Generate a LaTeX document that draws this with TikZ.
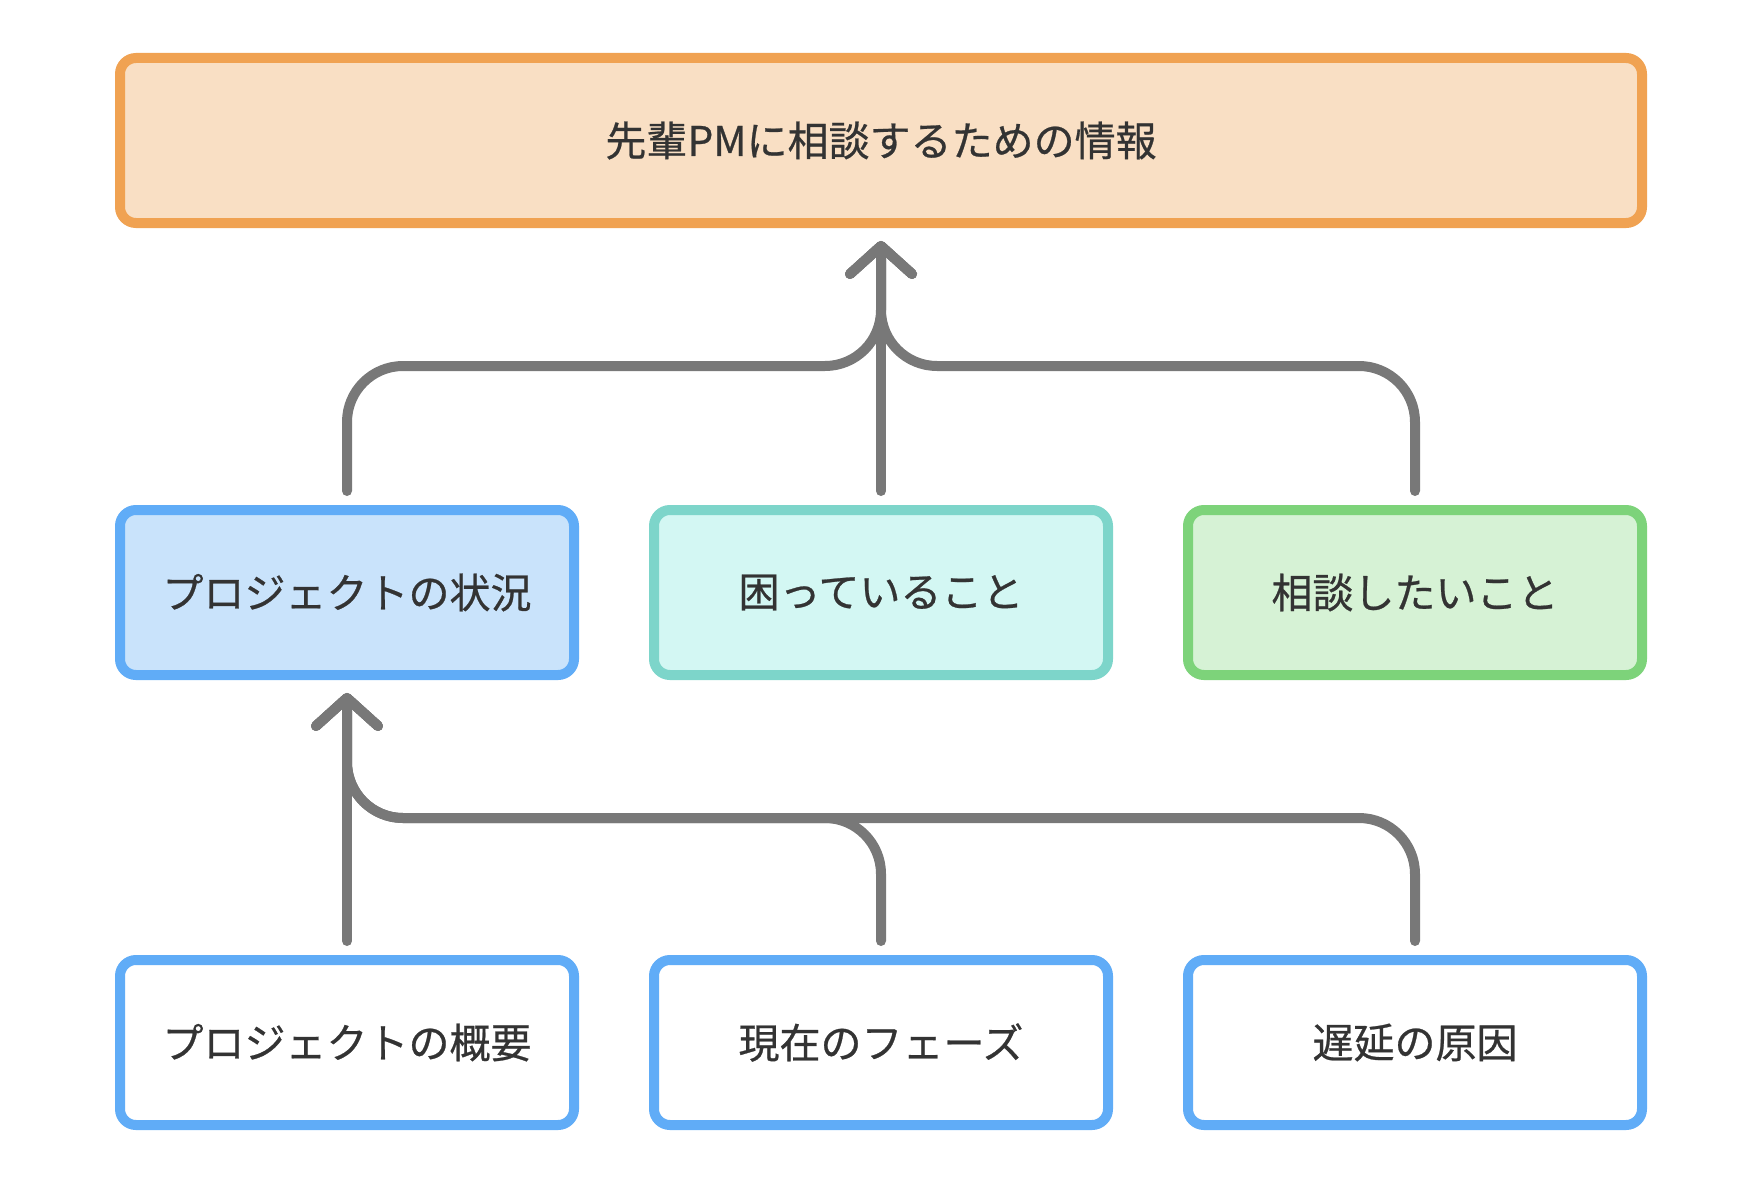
\documentclass[tikz,border=0pt]{standalone}
\usepackage{fontspec}
\setmainfont{Noto Sans CJK JP}[FakeBold=0.6]
\usetikzlibrary{positioning,arrows.meta}
\definecolor{ink}{HTML}{333333}
\definecolor{wire}{HTML}{787878}
\definecolor{orng}{HTML}{F0A252}
\definecolor{orngf}{HTML}{F9DFC4}
\definecolor{blu}{HTML}{60ACF7}
\definecolor{bluf}{HTML}{C9E3FB}
\definecolor{tel}{HTML}{7DD5CA}
\definecolor{telf}{HTML}{D3F7F3}
\definecolor{grn}{HTML}{7DD37A}
\definecolor{grnf}{HTML}{D6F2D5}
\newcommand{\Lbl}{\fontsize{41}{48}\selectfont}
\tikzset{
  box/.style={rectangle, rounded corners=16pt, line width=10pt, inner sep=0pt, outer sep=0pt,
              minimum width=454pt, minimum height=165pt, align=center, text=ink, font=\Lbl},
  goalbox/.style={box, draw=orng, fill=orngf, minimum width=1522pt},
  leaf/.style={box, draw=blu, fill=white},
  conn/.style={draw=wire, line width=10pt, line cap=round, line join=round, rounded corners=56pt,
               -{Straight Barb[length=28pt,width=62pt,round]}},
}
\begin{document}
\begin{tikzpicture}[x=1pt,y=1pt]
  \useasboundingbox (0,0) rectangle (1754,-1196);
  % goal
  \node[goalbox] (goal) at (881,-140.5) {先輩PMに相談するための情報};
  % middle row
  \node[box, draw=blu, fill=bluf, below=287pt of goal.south west, anchor=north west] (state) {プロジェクトの状況};
  \node[box, draw=tel, fill=telf, right=80pt of state] (trouble) {困っていること};
  \node[box, draw=grn, fill=grnf, right=80pt of trouble] (consult) {相談したいこと};
  % bottom row
  \node[leaf, below=285pt of state] (overview) {プロジェクトの概要};
  \node[leaf, below=285pt of trouble] (phase) {現在のフェーズ};
  \node[leaf, below=285pt of consult] (delay) {遅延の原因};
  % joints
  \coordinate (upj) at (trouble.north |- 0,-366);
  \coordinate (lowj) at (state.south |- 0,-818);
  \draw[conn] ([yshift=19pt]state.north) |- (upj) -- ([yshift=-18pt]goal.south);
  \draw[conn] ([yshift=19pt]trouble.north) -- ([yshift=-18pt]goal.south);
  \draw[conn] ([yshift=19pt]consult.north) |- (upj) -- ([yshift=-18pt]goal.south);
  \draw[conn] ([yshift=19pt]overview.north) -- ([yshift=-18pt]state.south);
  \draw[conn] ([yshift=19pt]phase.north) |- (lowj) -- ([yshift=-18pt]state.south);
  \draw[conn] ([yshift=19pt]delay.north) |- (lowj) -- ([yshift=-18pt]state.south);
\end{tikzpicture}
\end{document}
